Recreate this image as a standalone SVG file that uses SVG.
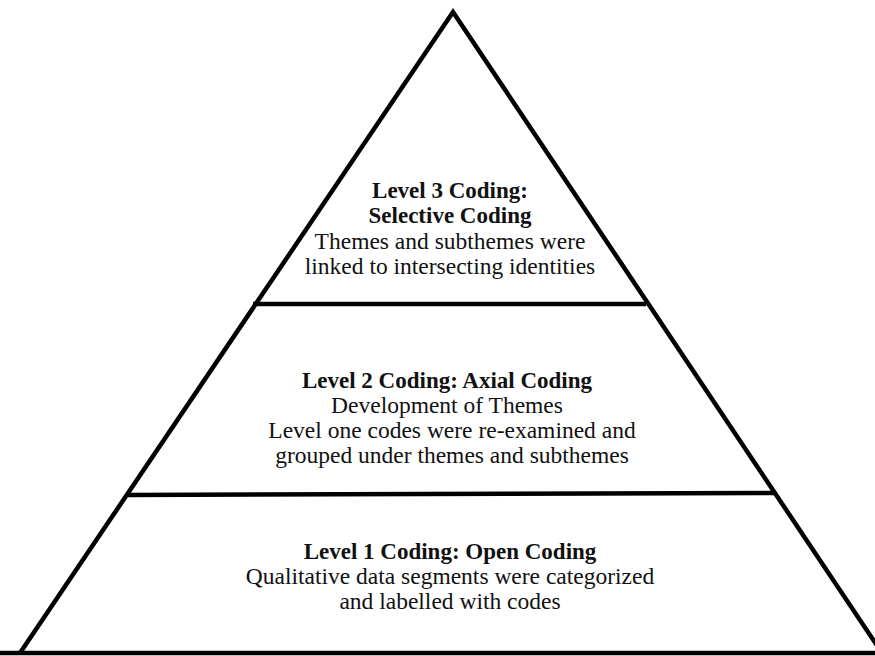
<svg xmlns="http://www.w3.org/2000/svg" width="875" height="656" viewBox="0 0 875 656">
<style>
.edge{fill:none;stroke:#000;stroke-width:4.5;stroke-linejoin:miter}
.t{font-family:"Liberation Serif","Times New Roman",serif;font-size:23.5px;fill:#111;text-anchor:middle}
.b{font-weight:bold;font-size:23px}
</style>
<rect width="875" height="656" fill="#fff"/>
<g id="connectors">
<polyline class="edge" points="20,653 453,12 882,653"/>
<line class="edge" x1="0" y1="653" x2="875" y2="653"/>
<line class="edge" x1="253" y1="304" x2="646" y2="304"/>
<line class="edge" x1="128" y1="495" x2="776" y2="493"/>
</g>
<g id="level3">
<text class="t b" x="450" y="198">Level 3 Coding:</text>
<text class="t b" x="450" y="223">Selective Coding</text>
<text class="t" x="450" y="249">Themes and subthemes were</text>
<text class="t" x="450" y="274">linked to intersecting identities</text>
</g>
<g id="level2">
<text class="t b" x="447" y="388">Level 2 Coding: Axial Coding</text>
<text class="t" x="447" y="413">Development of Themes</text>
<text class="t" x="452" y="438">Level one codes were re-examined and</text>
<text class="t" x="452" y="463">grouped under themes and subthemes</text>
</g>
<g id="level1">
<text class="t b" x="450" y="559">Level 1 Coding: Open Coding</text>
<text class="t" x="450" y="584">Qualitative data segments were categorized</text>
<text class="t" x="450" y="609">and labelled with codes</text>
</g>
</svg>
